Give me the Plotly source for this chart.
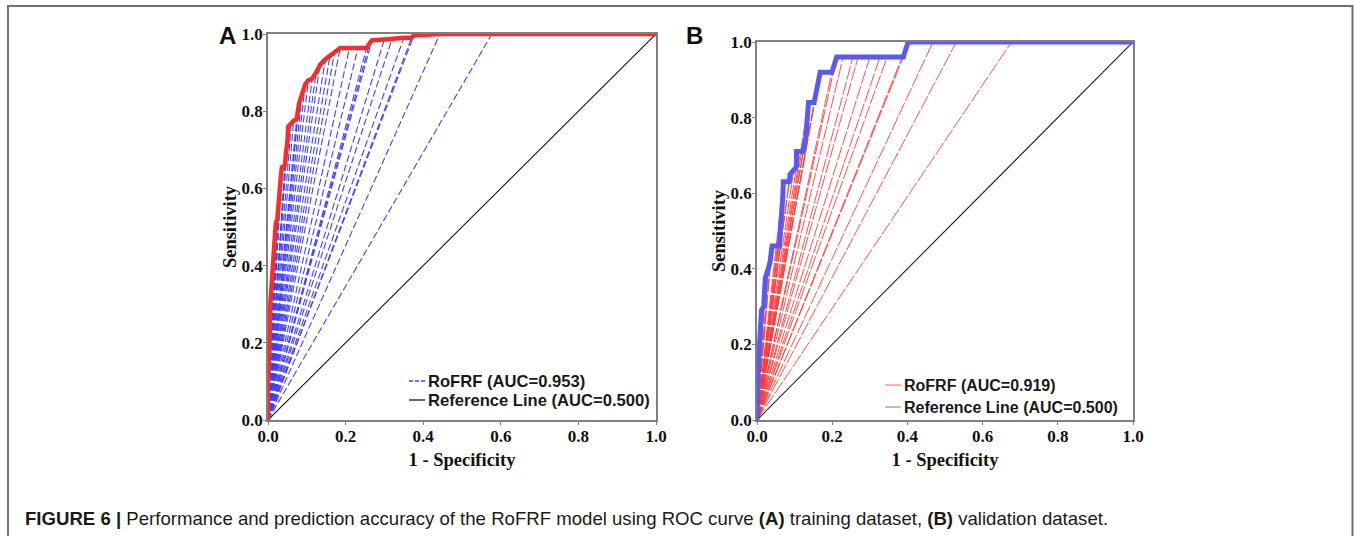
import plotly.graph_objects as go

# ---------------- data ----------------
# Panel A (training): ROC vertices
a_fpr = [0, 0, 0, 0.003, 0.003, 0.005, 0.006, 0.008, 0.010, 0.012, 0.014, 0.016, 0.018,
         0.020, 0.024, 0.026, 0.028, 0.030, 0.034, 0.036, 0.044, 0.046, 0.050, 0.052,
         0.060, 0.066, 0.074, 0.078, 0.080, 0.088, 0.096, 0.104, 0.114, 0.124, 0.134,
         0.148, 0.160, 0.172, 0.186, 0.210, 0.232, 0.254, 0.262, 0.268, 0.300, 0.320,
         0.350, 0.370, 0.376, 0.443, 1.0]
a_tpr = [0, 0.05, 0.10, 0.15, 0.20, 0.25, 0.30, 0.33, 0.36, 0.40, 0.43, 0.46, 0.49,
         0.51, 0.52, 0.55, 0.59, 0.62, 0.64, 0.655, 0.66, 0.69, 0.72, 0.76,
         0.77, 0.775, 0.78, 0.80, 0.82, 0.845, 0.87, 0.88, 0.885, 0.90, 0.92,
         0.935, 0.945, 0.955, 0.964, 0.964, 0.964, 0.964, 0.976, 0.984, 0.986, 0.988,
         0.99, 0.99, 0.997, 1.0, 1.0]
a_extra_fpr = [0.577]
a_extra_tpr = [1.0]

# Panel B (validation): ROC vertices
b_fpr = [0, 0, 0.002, 0.003, 0.005, 0.008, 0.010, 0.012, 0.018, 0.020, 0.022, 0.030,
         0.035, 0.040, 0.060, 0.062, 0.066, 0.068, 0.070, 0.086, 0.088, 0.105, 0.105,
         0.123, 0.130, 0.134, 0.137, 0.152, 0.160, 0.168, 0.199, 0.212, 0.389, 0.402, 1.0]
b_tpr = [0, 0.04, 0.08, 0.125, 0.17, 0.21, 0.25, 0.29, 0.30, 0.33, 0.375, 0.40,
         0.42, 0.46, 0.46, 0.50, 0.54, 0.58, 0.63, 0.63, 0.65, 0.67, 0.71,
         0.71, 0.75, 0.80, 0.84, 0.84, 0.88, 0.92, 0.92, 0.96, 0.96, 1.0, 1.0]
b_extra_fpr = [0.229, 0.255, 0.269, 0.300, 0.327, 0.346, 0.468, 0.530, 0.677]
b_extra_tpr = [0.96, 0.96, 0.96, 0.96, 0.96, 0.96, 1.0, 1.0, 1.0]

ref_x = [0, 1]
ref_y = [0, 1]

tick_vals = [0.0, 0.2, 0.4, 0.6, 0.8, 1.0]
tick_text = ["0.0", "0.2", "0.4", "0.6", "0.8", "1.0"]

legend_a = ["RoFRF (AUC=0.953)", "Reference Line (AUC=0.500)"]
legend_b = ["RoFRF (AUC=0.919)", "Reference Line (AUC=0.500)"]

caption = ("<b>FIGURE 6 |</b> Performance and prediction accuracy of the RoFRF model using ROC curve "
           "<b>(A)</b> training dataset, <b>(B)</b> validation dataset.")

# ---------------- helpers ----------------
W, H = 1354, 536


def px(x):
    return x / W


def py(y):
    return 1 - y / H


def fan(xs, ys):
    fx, fy = [], []
    for x, y in zip(xs, ys):
        if (x, y) in [(0, 0), (1.0, 1.0)]:
            continue
        fx += [0, x, None]
        fy += [0, y, None]
    return fx, fy


fig = go.Figure()

# Panel A
fa_x, fa_y = fan(a_fpr + a_extra_fpr, a_tpr + a_extra_tpr)
fig.add_trace(go.Scatter(x=fa_x, y=fa_y, mode="lines", xaxis="x", yaxis="y",
                         line=dict(color="#3f3fff", width=1.1, dash="7px,3px"),
                         showlegend=False, hoverinfo="skip"))
fig.add_trace(go.Scatter(x=ref_x, y=ref_y, mode="lines", xaxis="x", yaxis="y",
                         line=dict(color="#111111", width=1.1), showlegend=False))
fig.add_trace(go.Scatter(x=a_fpr, y=a_tpr, mode="lines", xaxis="x", yaxis="y",
                         line=dict(color="#ff2a2a", width=4.5, shape="linear"),
                         cliponaxis=False, showlegend=False))

# Panel B
fb_x, fb_y = fan(b_fpr + b_extra_fpr, b_tpr + b_extra_tpr)
fig.add_trace(go.Scatter(x=fb_x, y=fb_y, mode="lines", xaxis="x2", yaxis="y2",
                         line=dict(color="#ff3a3a", width=0.9, dash="14px,2px"),
                         showlegend=False, hoverinfo="skip"))
fig.add_trace(go.Scatter(x=ref_x, y=ref_y, mode="lines", xaxis="x2", yaxis="y2",
                         line=dict(color="#222222", width=1.1), showlegend=False))
fig.add_trace(go.Scatter(x=b_fpr, y=b_tpr, mode="lines", xaxis="x2", yaxis="y2",
                         line=dict(color="#5a5af2", width=5),
                         cliponaxis=False, showlegend=False))

axis_common = dict(range=[0, 1], tickvals=tick_vals, ticktext=tick_text,
                   showline=True, mirror=True, linecolor="#808080", linewidth=1.5,
                   ticks="outside", ticklen=3, tickcolor="#808080", showgrid=False,
                   zeroline=False, fixedrange=True, automargin=False,
                   ticklabelstandoff=-3,
                   tickfont=dict(family="Liberation Serif", size=17, color="#111111",
                                 weight="bold"))
title_font = dict(family="Liberation Serif", size=18.5, color="#111111", weight="bold")

fig.update_layout(
    width=W, height=H,
    margin=dict(l=0, r=0, t=0, b=0),
    paper_bgcolor="white", plot_bgcolor="white",
    xaxis=dict(domain=[px(268), px(656)], anchor="y",
               title=dict(text="1 - Specificity", font=title_font, standoff=8), **axis_common),
    yaxis=dict(domain=[py(420), py(34)], anchor="x",
               title=dict(text="Sensitivity", font=title_font, standoff=0), **axis_common),
    xaxis2=dict(domain=[px(757), px(1133)], anchor="y2",
                title=dict(text="1 - Specificity", font=title_font, standoff=8), **axis_common),
    yaxis2=dict(domain=[py(420), py(42)], anchor="x2",
                title=dict(text="Sensitivity", font=title_font, standoff=0), **axis_common),
    showlegend=False,
)

annots = []
shapes = []

# outer frame
shapes.append(dict(type="rect", xref="paper", yref="paper", x0=px(8), x1=px(1352.5),
                   y0=-0.2, y1=py(6), line=dict(color="#707070", width=2)))

# panel letters
for letter, lx in [("A", 227.5), ("B", 694)]:
    annots.append(dict(text="<b>%s</b>" % letter, x=px(lx), y=py(35), xref="paper", yref="paper",
                       xanchor="center", yanchor="middle", showarrow=False,
                       font=dict(family="Liberation Sans", size=24, color="#111")))

# legends (manual)
# A
for i, (txt, col, dash) in enumerate(zip(legend_a, ["#3f3fff", "#111111"], ["4px,2px", "solid"])):
    yy = 381 + i * 19
    shapes.append(dict(type="line", xref="paper", yref="paper", x0=px(409), x1=px(425),
                       y0=py(yy), y1=py(yy), line=dict(color=col, width=1.3, dash=dash)))
    annots.append(dict(text=txt, x=px(426), y=py(yy), xref="paper", yref="paper",
                       xanchor="left", yanchor="middle", showarrow=False,
                       font=dict(family="Liberation Sans", size=16.6, color="#1a1a1a", weight="bold")))
# B
for i, (txt, col) in enumerate(zip(legend_b, ["#ff5a5a", "#808080"])):
    yy = 385 + i * 22
    shapes.append(dict(type="line", xref="paper", yref="paper", x0=px(885), x1=px(901),
                       y0=py(yy), y1=py(yy), line=dict(color=col, width=1)))
    annots.append(dict(text=txt, x=px(902), y=py(yy), xref="paper", yref="paper",
                       xanchor="left", yanchor="middle", showarrow=False,
                       font=dict(family="Liberation Sans", size=16, color="#1a1a1a", weight="bold")))

# caption
annots.append(dict(text=caption, x=px(23), y=py(518), xref="paper", yref="paper",
                   xanchor="left", yanchor="middle", showarrow=False,
                   font=dict(family="Liberation Sans", size=18.6, color="#1a1a1a")))

fig.update_layout(annotations=annots, shapes=shapes)

fig.write_html("out.html", config={"displayModeBar": False},
               post_script="document.body.style.margin='0';")
